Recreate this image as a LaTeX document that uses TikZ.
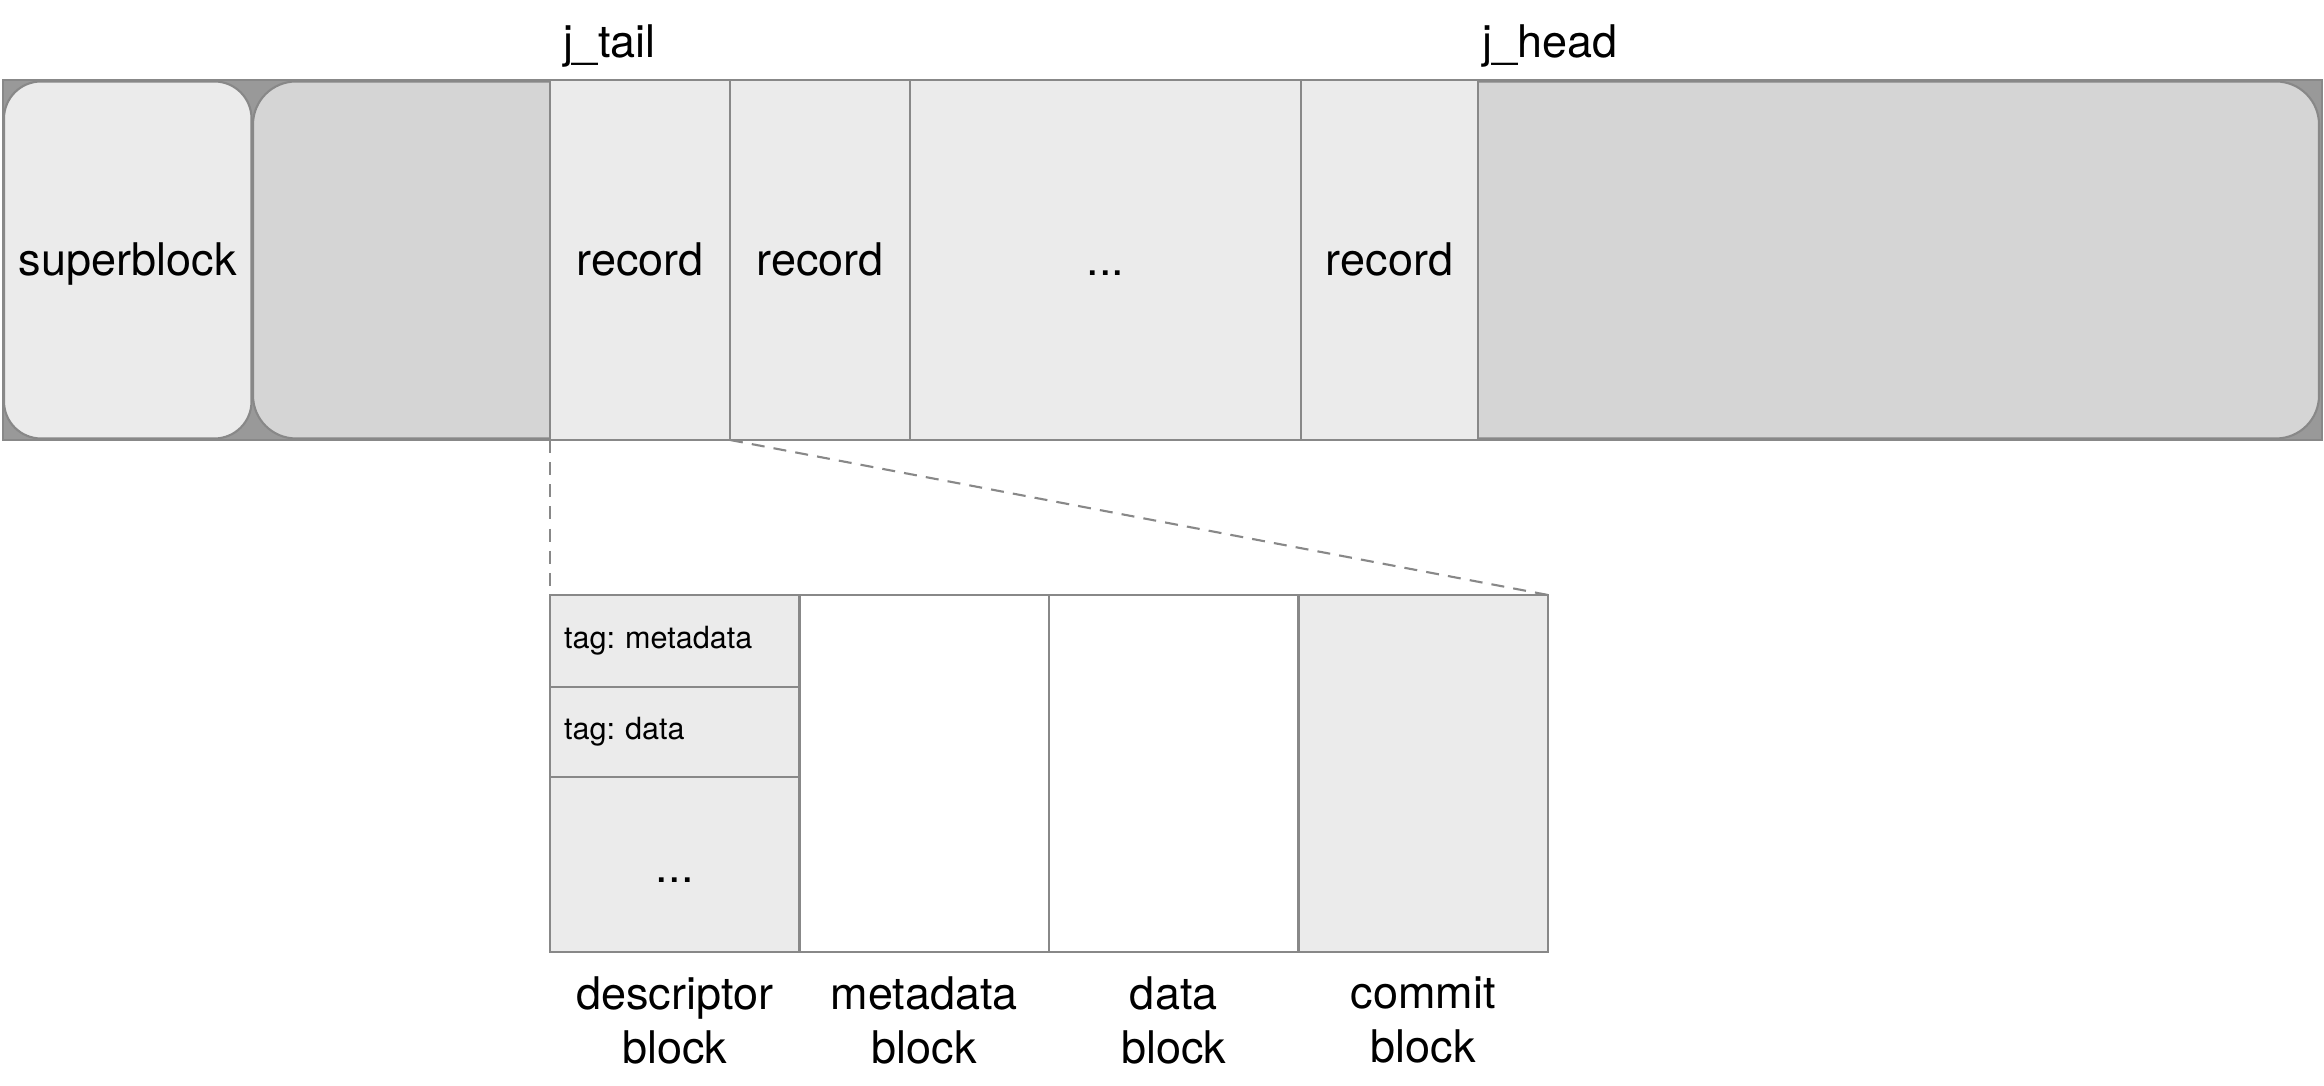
\documentclass[tikz,border=0pt]{standalone}
\usepackage{fontspec}
\setmainfont{TeX Gyre Heros}
\usetikzlibrary{positioning}
\definecolor{jrborder}{HTML}{888888}
\definecolor{jrdark}{HTML}{999999}
\definecolor{jrmid}{HTML}{D5D5D5}
\definecolor{jrlight}{HTML}{EBEBEB}
\frenchspacing

\begin{document}
\begin{tikzpicture}[
  every node/.style={font=\fontsize{12.8}{15.3}\selectfont, outer sep=0pt},
  block/.style={rectangle, draw=jrborder, line width=0.6pt, minimum height=3.6cm, inner sep=0pt, text height=13.2pt, text depth=4.6pt},
  region/.style={block, minimum height=3.57cm},
  cell/.style={rectangle, draw=jrborder, line width=0.6pt, minimum height=3.57cm, minimum width=2.495cm, inner sep=0pt},
  tagrow/.style={rectangle, draw=jrborder, line width=0.6pt, fill=jrlight, inner xsep=0.14cm, inner ysep=0pt, text width=2.215cm, align=left, font=\fontsize{8.7}{10.4}\selectfont},
  pointer/.style={anchor=base west, inner sep=0pt},
  caption/.style={align=center, inner sep=0pt},
  zoomline/.style={draw=jrborder, line width=0.6pt, dash pattern=on 3.7pt off 2.6pt},
]
\useasboundingbox (0,0) rectangle (23.24,10.86);
\node[block, fill=jrdark, minimum width=23.19cm, anchor=west] (disk) at (0.03,8.26) {};
\node[region, fill=jrlight, rounded corners=0.37cm, minimum width=2.475cm, anchor=west] (sb) at (0.04,8.26) {superblock};
\node[region, fill=jrmid, rounded corners=0.43cm, minimum width=20.66cm, anchor=west] (free) at (2.53,8.26) {};
\node[block, fill=jrlight, minimum width=1.80cm, anchor=west] (rec1) at (5.50,8.26) {record};
\node[block, fill=jrlight, minimum width=1.80cm, anchor=west] (rec2) at (rec1.east) {record};
\node[block, fill=jrlight, minimum width=3.91cm, anchor=west] (more) at (rec2.east) {...};
\node[block, fill=jrlight, minimum width=1.77cm, anchor=west] (rec4) at (more.east) {record};
\node[pointer] (tail) at ([xshift=0.13cm, yshift=0.22cm]rec1.north west) {j\_tail};
\node[pointer] (head) at ([xshift=0.04cm, yshift=0.22cm]rec4.north east) {j\_head};
\node[cell, fill=jrlight, anchor=north west] (desc) at (5.50,4.91) {};
\node[cell, fill=white, anchor=west] (meta) at (desc.east) {};
\node[cell, fill=white, anchor=west] (data) at (meta.east) {};
\node[cell, fill=jrlight, anchor=west] (commit) at (data.east) {};
\node[tagrow, minimum height=0.92cm, anchor=north west] (tagmeta) at (desc.north west) {tag: metadata};
\node[tagrow, minimum height=0.90cm, below=0cm of tagmeta] (tagdata) {tag: data};
\node[tagrow, minimum height=1.75cm, below=0cm of tagdata, align=center, font=\fontsize{12.8}{15.3}\selectfont, text height=14.9pt, text depth=4.6pt] (tagmore) {...};
\draw[zoomline] (rec1.south west) -- (desc.north west);
\draw[zoomline] (rec1.south east) -- (commit.north east);
\node[caption, below=0.25cm of desc] (descl) {descriptor\\block};
\node[caption, below=0.25cm of meta] (metal) {metadata\\block};
\node[caption, below=0.25cm of data] (datal) {data\\block};
\node[caption, below=0.25cm of commit] (commitl) {commit\\block};
\end{tikzpicture}
\end{document}
